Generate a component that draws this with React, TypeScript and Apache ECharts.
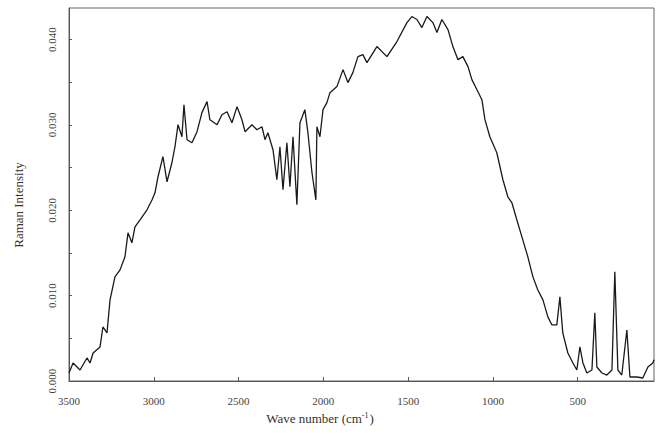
import React, { useEffect, useRef } from "react";
import * as echarts from "echarts";

const wavenumbers: number[] = [
  3500, 3476, 3435, 3394, 3376, 3358, 3317, 3300, 3276, 3258, 3229, 3199, 3170, 3152, 3129, 3111, 3081, 3040, 3010,
  2993, 2975, 2946, 2922, 2893, 2875, 2857, 2834, 2822, 2804, 2775, 2745, 2716, 2686, 2669, 2627, 2598, 2568, 2539,
  2509, 2480, 2462, 2421, 2392, 2362, 2344, 2327, 2297, 2274, 2256, 2238, 2215, 2197, 2179, 2156, 2138, 2109, 2091,
  2067, 2044, 2038, 2020, 2002, 1979, 1961, 1920, 1884, 1855, 1826, 1796,
  1767, 1743, 1684, 1625, 1566, 1507, 1478, 1448, 1419, 1389, 1354, 1330, 1301, 1265, 1236, 1206, 1177, 1147, 1124,
  1094, 1065, 1047, 1018, 977, 941, 912,
  888, 859, 829, 794, 764, 735, 705, 676, 652, 623, 605, 588, 558, 528, 505, 487, 469, 446, 416, 399, 387, 357, 328,
  298, 281, 263, 240, 210, 192, 151, 116, 86, 57, 50,
];

const intensities: number[] = [
  0.00094, 0.00211, 0.00129, 0.0027, 0.00211, 0.00328, 0.00399, 0.00633, 0.00563, 0.0095, 0.0122, 0.01302, 0.01455,
  0.01736, 0.01619, 0.01806, 0.01889, 0.02006, 0.02123,
  0.02205, 0.02393, 0.02628, 0.02334, 0.02557, 0.02745, 0.03003, 0.02862, 0.03237, 0.02827, 0.02792, 0.02921, 0.03144,
  0.03273, 0.03061, 0.03003, 0.0312, 0.03155, 0.03026, 0.03214, 0.03061, 0.02921, 0.03003, 0.02944, 0.02979, 0.02827,
  0.02909, 0.0271, 0.02358, 0.02745, 0.0224, 0.02792, 0.02276, 0.02862, 0.02064, 0.03026, 0.03179, 0.02909, 0.0244,
  0.02123, 0.02979, 0.02862, 0.03179, 0.03261, 0.03378, 0.03449, 0.03648, 0.03496, 0.03613, 0.038,
  0.03824, 0.0373, 0.03918, 0.038, 0.03977, 0.04199, 0.0427, 0.04235, 0.04141, 0.0427, 0.04199, 0.04082, 0.04235,
  0.04117, 0.03918, 0.03765, 0.038, 0.03683, 0.03531, 0.03413, 0.03296, 0.03062, 0.02862, 0.02674, 0.02358, 0.02158,
  0.02088, 0.01889, 0.01689, 0.01455, 0.0122, 0.01067, 0.0095, 0.00751, 0.00657, 0.00657, 0.00985, 0.00563, 0.00328,
  0.00211, 0.00129, 0.00399, 0.00211, 0.00094, 0.00129, 0.00798, 0.00164, 0.00094, 0.0007, 0.00129, 0.01279, 0.00129,
  0.0007, 0.00598, 0.00047, 0.00047, 0.00035, 0.00164, 0.00211, 0.0025,
];

const xTickLabels: number[] = [3500, 3000, 2500, 2000, 1500, 1000, 500];
const yTickLabels: number[] = [0, 0.01, 0.02, 0.03, 0.04];
const yTicks: number[] = [0, 0.005, 0.01, 0.015, 0.02, 0.025, 0.03, 0.035, 0.04];

export default function App() {
  const ref = useRef<HTMLDivElement>(null);
  useEffect(() => {
    if (!ref.current) return;
    const chart = echarts.init(ref.current, null, { renderer: "svg" });
    const data = wavenumbers.map((w, i) => [w, intensities[i]]);
    const font = "'Liberation Serif', 'DejaVu Serif', serif";
    chart.setOption({
      animation: false,
      backgroundColor: "#ffffff",
      grid: {
        left: 69,
        right: 2,
        top: 8,
        bottom: 53,
        show: true,
        borderColor: "#666",
        borderWidth: 1,
        backgroundColor: "transparent",
      },
      xAxis: {
        type: "value",
        inverse: true,
        min: 50,
        max: 3500,
        splitLine: { show: false },
        axisLine: { show: true, lineStyle: { color: "#555", width: 1 } },
        axisTick: {
          show: true,
          inside: true,
          length: 4,
          customValues: xTickLabels,
          lineStyle: { color: "#555" },
        },
        axisLabel: {
          customValues: xTickLabels,
          color: "#444",
          fontFamily: font,
          fontSize: 11,
          margin: 14,
          formatter: (v: number) => String(v),
        },
      },
      yAxis: {
        type: "value",
        min: 0,
        max: 0.0437,
        splitLine: { show: false },
        axisLine: { show: true, lineStyle: { color: "#555", width: 1 } },
        axisTick: {
          show: true,
          inside: true,
          length: 3,
          customValues: yTicks,
          lineStyle: { color: "#555" },
        },
        axisLabel: {
          customValues: yTickLabels,
          rotate: 90,
          color: "#444",
          fontFamily: font,
          fontSize: 11,
          margin: 12,
          formatter: (v: number) => v.toFixed(3),
        },
      },
      series: [
        {
          type: "line",
          data,
          showSymbol: false,
          symbol: "none",
          lineStyle: { color: "#1a1a1a", width: 1.3 },
        },
      ],
      graphic: [
        {
          type: "text",
          x: 320,
          y: 418,
          style: {
            text: "Wave number (cm{sup|-1})",
            fill: "#333",
            font: `13px ${font}`,
            textAlign: "center",
            textVerticalAlign: "middle",
            rich: {
              sup: { fontSize: 8, verticalAlign: "top", padding: [0, 1, 6, 0], fontFamily: font, fill: "#333" },
            },
          },
        },
        {
          type: "text",
          x: 18,
          y: 205,
          rotation: Math.PI / 2,
          style: {
            text: "Raman Intensity",
            fill: "#333",
            font: `13px ${font}`,
            textAlign: "center",
            textVerticalAlign: "middle",
          },
        },
      ],
    });
    return () => chart.dispose();
  }, []);
  return (
    <div
      ref={ref}
      style={{ position: "fixed", left: 0, top: 0, width: 656, height: 434, background: "#fff" }}
    />
  );
}
